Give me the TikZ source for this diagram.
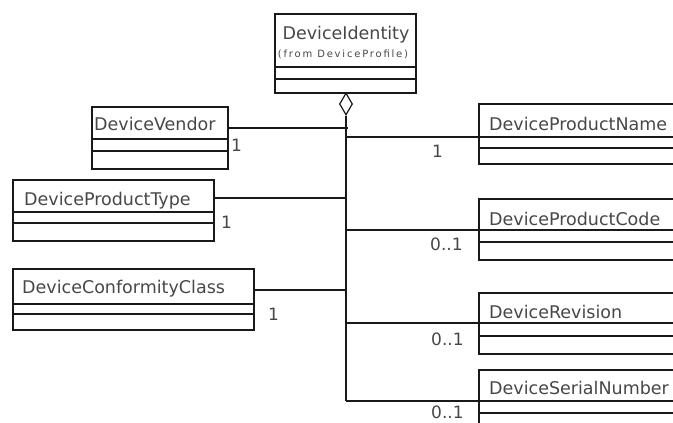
\documentclass[tikz,border=0pt]{standalone}
\usepackage{fontspec}
\setmainfont{DejaVu Sans}
\newfontfamily\smallfont[LetterSpace=18]{DejaVu Sans}
\usetikzlibrary{shapes.geometric}
\definecolor{txt}{gray}{0.28}
\definecolor{ln}{gray}{0.1}
\tikzset{
  clsbox/.style={draw=ln, line width=1.5pt, rectangle, inner sep=0pt, anchor=north west},
  clsline/.style={draw=ln, line width=1.5pt},
  clstext/.style={anchor=base west, inner sep=0pt, text=txt, font=\fontsize{17.5}{20}\selectfont},
  conn/.style={draw=ln, line width=1.5pt},
  mult/.style={anchor=base west, inner sep=0pt, text=txt, font=\fontsize{17}{20}\selectfont},
  aggdia/.style={diamond, draw=ln, line width=1.2pt, fill=white, inner sep=0pt, minimum width=13pt, minimum height=22pt}
}
% #1 name, #2 x1, #3 y1, #4 x2, #5 y2, #6 sep1, #7 sep2, #8 text x, #9 text baseline
\newcommand{\umlclass}[9]{%
  \node[clsbox, minimum width={(#4-#2)*1pt}, minimum height={(#5-#3)*1pt}] (#1) at (#2,#3) {};
  \draw[clsline] (#2,#6) -- (#4,#6) (#2,#7) -- (#4,#7);
  \coordinate (#1-tx) at (#8,#9);
}
\begin{document}
\begin{tikzpicture}[x=1pt,y=-1pt]
\useasboundingbox (0,0) rectangle (673,423);
\clip (0,0) rectangle (673,423);
% DeviceIdentity
\umlclass{ident}{274}{13}{415}{92}{67}{79}{0}{0}
\node[anchor=base, inner sep=0pt, text=txt, font=\fontsize{17.5}{20}\selectfont] (identname) at (346,39) {DeviceIdentity};
\node[anchor=base, inner sep=0pt, text=txt, font=\smallfont\fontsize{10}{12}\selectfont] (identfrom) at (343,57) {(from DeviceProfile)};
% aggregation diamond
\node[aggdia] (agg) at (346,104) {};
% left classes
\umlclass{vendor}{91}{106}{227}{168}{139}{151}{94}{130}
\node[clstext] (vendorname) at (vendor-tx) {DeviceVendor};
\umlclass{ptype}{12}{179}{213}{240}{212}{223}{24}{205}
\node[clstext] (ptypename) at (ptype-tx) {DeviceProductType};
\umlclass{conf}{12}{268}{253}{329}{304}{314}{22}{293.5}
\node[clstext] (confname) at (conf-tx) {DeviceConformityClass};
% right classes
\umlclass{pname}{478}{103}{700}{163}{137}{148}{489}{130}
\node[clstext] (pnamename) at (pname-tx) {DeviceProductName};
\umlclass{pcode}{478}{198}{700}{259}{230}{242}{489}{225}
\node[clstext] (pcodename) at (pcode-tx) {DeviceProductCode};
\umlclass{rev}{478}{292}{700}{353}{323}{336}{489}{318}
\node[clstext] (revname) at (rev-tx) {DeviceRevision};
\umlclass{serial}{478}{369}{700}{440}{401}{413}{489}{394}
\node[clstext] (serialname) at (serial-tx) {DeviceSerialNumber};
% connector end points on the boxes
\coordinate (vendorC) at (vendor.north east |- 0,128);
\coordinate (ptypeC) at (ptype.north east |- 0,198);
\coordinate (confC) at (conf.north east |- 0,290);
\coordinate (pnameC) at (pname.north west |- 0,137);
\coordinate (pcodeC) at (pcode.north west |- 0,230);
\coordinate (revC) at (rev.north west |- 0,323);
\coordinate (serialC) at (serial.north west |- 0,401);
% spine
\draw[conn] (agg.south) -- (agg.south |- serialC);
% left connectors
\draw[conn] (vendorC) -- ([xshift=2pt]vendorC -| agg.south);
\draw[conn] (ptypeC) -- (ptypeC -| agg.south);
\draw[conn] (confC) -- (confC -| agg.south);
% right connectors
\draw[conn] (agg.south |- pnameC) -- (pnameC);
\draw[conn] (agg.south |- pcodeC) -- (pcodeC);
\draw[conn] (agg.south |- revC) -- (revC);
\draw[conn] (agg.south |- serialC) -- (serialC);
% multiplicities
\node[mult] (m1) at (231,151) {1};
\node[mult] (m2) at (221,228) {1};
\node[mult] (m3) at (268,320) {1};
\node[mult] (m4) at (432,157) {1};
\node[mult] (m5) at (430,250) {0..1};
\node[mult] (m6) at (431,345) {0..1};
\node[mult] (m7) at (431,418) {0..1};
\end{tikzpicture}
\end{document}
